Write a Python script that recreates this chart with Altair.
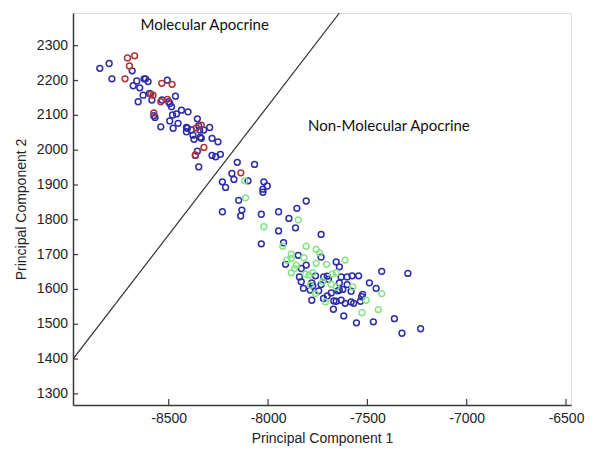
import altair as alt
import pandas as pd

# Upper cluster, blue
blue_up_x = [-8847, -8800, -8786, -8684, -8679, -8661, -8646, -8654, -8629, -8624, -8617, -8604, -8597,
             -8585, -8575, -8569, -8540, -8534, -8507, -8500, -8495, -8486, -8495, -8481, -8466, -8478,
             -8461, -8453, -8436, -8411, -8403, -8411, -8406, -8386, -8378, -8373, -8356, -8349, -8344,
             -8341, -8324, -8336, -8294, -8282, -8252, -8356, -8366, -8349, -8282, -8264, -8240]
blue_up_y = [2235, 2249, 2205, 2228, 2185, 2199, 2179, 2139, 2158, 2205, 2205, 2197, 2163,
             2144, 2099, 2094, 2067, 2144, 2201, 2139, 2134, 2125, 2084, 2101, 2155, 2063,
             2104, 2077, 2115, 2065, 2110, 2053, 2063, 2058, 2043, 2031, 2090, 2070, 2058,
             2037, 2058, 2034, 2065, 2034, 2024, 1997, 1985, 1952, 1985, 1981, 1988]

# Lower cluster, blue
blue_lo_x = [-8155, -8068, -8182, -8172, -8230, -8214, -8101, -8021, -8004, -8026, -8026, -8148, -7808,
             -8230, -8132, -8138, -8034, -7947, -7855, -7895, -7862, -7947, -8034, -7922, -7733, -7733,
             -7848, -7912, -7808, -7833, -7657, -7641, -7842, -7833, -7822, -7780, -7775, -7761, -7733,
             -7720, -7702, -7696, -7788, -7745, -7780, -7721, -7702, -7682, -7669, -7657, -7649, -7641,
             -7632, -7602, -7577, -7544, -7602, -7641, -7624, -7582, -7632, -7612, -7582, -7569, -7535,
             -7529, -7524, -7490, -7456, -7428, -7296, -7671, -7619, -7555, -7470, -7364, -7326, -7232]
blue_lo_y = [1965, 1959, 1933, 1916, 1909, 1893, 1912, 1909, 1897, 1888, 1879, 1856, 1854,
             1823, 1828, 1811, 1816, 1823, 1833, 1804, 1777, 1768, 1731, 1734, 1758, 1693,
             1698, 1672, 1670, 1660, 1679, 1665, 1636, 1622, 1603, 1619, 1610, 1639, 1614,
             1636, 1638, 1629, 1598, 1596, 1569, 1574, 1581, 1590, 1567, 1566, 1596, 1619,
             1636, 1636, 1639, 1639, 1614, 1598, 1600, 1595, 1569, 1560, 1564, 1560, 1566,
             1579, 1586, 1619, 1603, 1652, 1646, 1543, 1524, 1504, 1507, 1516, 1474, 1487]

# Red
red_x = [-8708, -8672, -8698, -8720, -8590, -8579, -8535, -8483, -8540, -8507, -8575,
         -8361, -8336, -8323, -8366, -8137]
red_y = [2265, 2271, 2242, 2205, 2161, 2158, 2192, 2189, 2139, 2146, 2107,
         2064, 2072, 2008, 1986, 1935]

# Green
green_x = [-8118, -8113, -7848, -8021, -7926, -7808, -7758, -7741, -7883, -7905, -7883, -7820,
           -7758, -7705, -7612, -7858, -7867, -7883, -7812, -7795, -7775, -7677, -7657, -7725,
           -7682, -7657, -7574, -7761, -7711, -7506, -7428, -7527, -7445, -7786]
green_y = [1912, 1863, 1800, 1780, 1724, 1724, 1715, 1705, 1701, 1684, 1689, 1691,
           1675, 1672, 1684, 1670, 1660, 1648, 1644, 1641, 1648, 1644, 1648, 1622,
           1615, 1607, 1607, 1588, 1564, 1569, 1588, 1533, 1542, 1612]

boundary_x = [-8982, -7641]
boundary_y = [1400, 2394]

x_ticks = [-8500, -8000, -7500, -7000, -6500]
y_ticks = [1300, 1400, 1500, 1600, 1700, 1800, 1900, 2000, 2100, 2200, 2300]

groups = ["blue", "red", "green"]
colors = ["#2c2ca8", "#b03434", "#86e486"]

rows = []
for x, y in zip(blue_up_x + blue_lo_x, blue_up_y + blue_lo_y):
    rows.append({"x": x, "y": y, "g": "blue"})
for x, y in zip(green_x, green_y):
    rows.append({"x": x, "y": y, "g": "green"})
for x, y in zip(red_x, red_y):
    rows.append({"x": x, "y": y, "g": "red"})
df = pd.DataFrame(rows)

xdom = [-8982, -6475]
ydom = [1268, 2394]

xs = alt.Scale(domain=xdom, nice=False, zero=False)
ys = alt.Scale(domain=ydom, nice=False, zero=False)

axis_common = dict(
    grid=False, tickSize=0, domainColor="#3a3a3a", domainWidth=1.5,
    labelFont="Liberation Sans", labelFontSize=14, labelColor="#222222",
    labelOverlap=False, labelExpr="'' + datum.value",
    titleFont="Liberation Sans", titleFontSize=14, titleFontWeight="normal", titleColor="#222222",
)
x_axis = alt.Axis(values=x_ticks, labelPadding=6, titlePadding=6, **axis_common)
y_axis = alt.Axis(values=y_ticks, labels=False, titlePadding=44, **axis_common)
x_title = "Principal Component 1"
y_title = "Principal Component 2"

points = alt.Chart(df).mark_point(filled=False, size=34, strokeWidth=1.5, opacity=1).encode(
    x=alt.X("x:Q", scale=xs, title=x_title, axis=x_axis),
    y=alt.Y("y:Q", scale=ys, title=y_title, axis=y_axis),
    color=alt.Color("g:N", scale=alt.Scale(domain=groups, range=colors), legend=None),
)

line = alt.Chart(pd.DataFrame({"x": boundary_x, "y": boundary_y})).mark_line(
    color="#333333", strokeWidth=1.2, clip=True
).encode(x=alt.X("x:Q", scale=xs, title=x_title, axis=x_axis),
         y=alt.Y("y:Q", scale=ys, title=y_title, axis=y_axis))

xt = alt.Chart(pd.DataFrame({"v": x_ticks})).mark_rule(color="#3a3a3a", strokeWidth=1.2).encode(
    x=alt.X("v:Q", scale=xs, title=x_title, axis=x_axis), y=alt.value(392), y2=alt.value(386))
yt = alt.Chart(pd.DataFrame({"v": y_ticks})).mark_rule(color="#3a3a3a", strokeWidth=1.2).encode(
    y=alt.Y("v:Q", scale=ys, title=y_title, axis=y_axis), x=alt.value(0), x2=alt.value(5))
ylab = alt.Chart(pd.DataFrame({"v": y_ticks})).mark_text(
    font="Liberation Sans", fontSize=14, color="#222222", align="right", baseline="middle"
).encode(y=alt.Y("v:Q", scale=ys, title=y_title, axis=y_axis), x=alt.value(-5), text=alt.Text("v:Q", format="d"))

label_a = alt.Chart(pd.DataFrame({"t": ["Molecular Apocrine"]})).mark_text(
    font="Lato", fontSize=15, color="#111111"
).encode(x=alt.datum(-8319, scale=xs), y=alt.datum(2359, scale=ys), text="t:N")
label_b = alt.Chart(pd.DataFrame({"t": ["Non-Molecular Apocrine"]})).mark_text(
    font="Lato", fontSize=15, color="#111111"
).encode(x=alt.datum(-7392, scale=xs), y=alt.datum(2069, scale=ys), text="t:N")

chart = alt.layer(points, line, xt, yt, ylab, label_a, label_b).properties(
    width=498, height=392,
    autosize=alt.AutoSizeParams(type="none"),
    padding={"left": 65, "top": 5, "right": 21, "bottom": 43},
).configure_view(stroke=None).configure(background="white")

chart.save("out.html", embed_options={"renderer": "svg", "actions": False})
